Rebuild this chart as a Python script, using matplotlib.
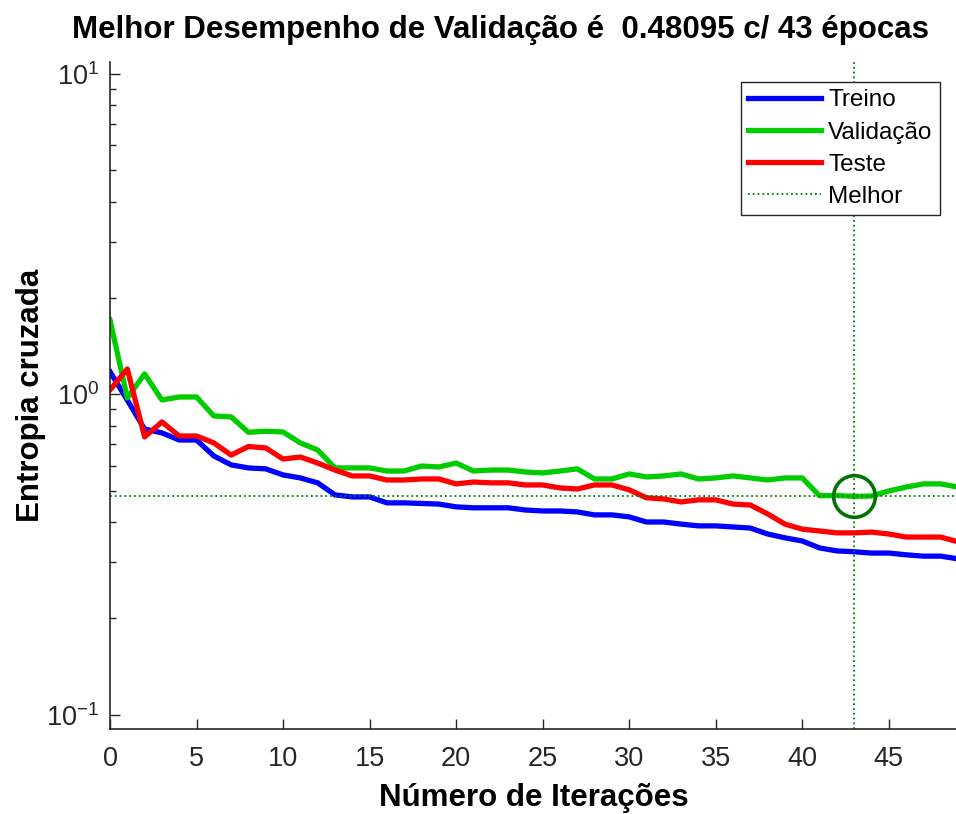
import matplotlib
matplotlib.use("Agg")
import matplotlib.pyplot as plt
from matplotlib.ticker import FuncFormatter
import numpy as np

plt.rcParams['font.family'] = ['Liberation Sans', 'DejaVu Sans']
plt.rcParams['mathtext.fontset'] = 'custom'
plt.rcParams['mathtext.rm'] = 'Liberation Sans'
plt.rcParams['axes.unicode_minus'] = False

# epocas 0..49
treino = [1.178, 0.96, 0.780, 0.759, 0.721, 0.721, 0.643, 0.603, 0.590, 0.586,
          0.561, 0.549, 0.530, 0.486, 0.479, 0.479, 0.459, 0.459, 0.457, 0.455,
          0.446, 0.443, 0.443, 0.443, 0.436, 0.433, 0.433, 0.430, 0.421, 0.421,
          0.415, 0.400, 0.400, 0.394, 0.389, 0.389, 0.386, 0.383, 0.367, 0.357,
          0.349, 0.332, 0.325, 0.323, 0.320, 0.320, 0.316, 0.313, 0.313, 0.307]
validacao = [1.708, 0.975, 1.159, 0.961, 0.982, 0.982, 0.857, 0.851, 0.762, 0.768,
             0.764, 0.706, 0.671, 0.590, 0.590, 0.590, 0.577, 0.577, 0.598, 0.594,
             0.611, 0.577, 0.581, 0.581, 0.573, 0.569, 0.577, 0.586, 0.545, 0.545,
             0.565, 0.553, 0.557, 0.565, 0.545, 0.549, 0.557, 0.549, 0.541, 0.549,
             0.549, 0.483, 0.484, 0.48095, 0.482, 0.500, 0.514, 0.526, 0.526, 0.514]
teste = [1.033, 1.201, 0.737, 0.821, 0.742, 0.742, 0.706, 0.647, 0.688, 0.681,
         0.629, 0.638, 0.611, 0.581, 0.557, 0.557, 0.541, 0.541, 0.545, 0.545,
         0.526, 0.533, 0.530, 0.530, 0.522, 0.522, 0.511, 0.507, 0.522, 0.522,
         0.504, 0.476, 0.472, 0.462, 0.469, 0.469, 0.455, 0.452, 0.424, 0.394,
         0.380, 0.375, 0.370, 0.370, 0.372, 0.367, 0.359, 0.359, 0.359, 0.347]
melhor_epoca = 43
melhor_valor = 0.48095
epocas = np.arange(len(treino))

W, H = 956, 814
fig = plt.figure(figsize=(W / 100, H / 100), dpi=100)
ax = fig.add_axes([110 / W, 1 - 729 / H, 848 / W, (729 - 62) / H])

lw = 3.8
ax.plot(epocas, treino, color=(0, 0, 1), lw=lw, label='Treino')
ax.plot(epocas, validacao, color=(0, 0.8, 0), lw=lw, label='Validação')
ax.plot(epocas, teste, color=(1, 0, 0), lw=lw, label='Teste')
ax.axhline(melhor_valor, color=(0, 0.5, 0), ls=':', lw=1.3, label='Melhor')
ax.axvline(melhor_epoca, color=(0, 0.5, 0), ls=':', lw=1.3)
ax.plot([melhor_epoca], [melhor_valor], 'o', ms=30, mfc='none',
        mec=(0, 0.45, 0), mew=2.6)

ax.set_yscale('log')
ax.set_ylim(0.0904, 10.9)
ax.set_xlim(0, 49)
ax.set_xticks(range(0, 50, 5))


def fmt_log(v, pos):
    e = int(round(np.log10(v)))
    return r'$\mathregular{10^{%d}}$' % e


ax.yaxis.set_major_formatter(FuncFormatter(fmt_log))

grey = (0.15, 0.15, 0.15)
for s in ['top', 'right']:
    ax.spines[s].set_visible(False)
for s in ['left', 'bottom']:
    ax.spines[s].set_color(grey)
    ax.spines[s].set_linewidth(1.2)
ax.tick_params(which='major', direction='in', length=7, width=1, colors=grey,
               labelsize=19.5, labelcolor=grey)
ax.tick_params(which='minor', direction='in', length=4, width=1, colors=grey)
ax.tick_params(axis='x', pad=12)
ax.tick_params(axis='y', pad=8)

ax.set_xlabel('Número de Iterações', fontsize=22.5, fontweight='bold', labelpad=8)
ax.set_ylabel('Entropia cruzada', fontsize=22.5, fontweight='bold', labelpad=0)
fig.text(500 / W, 1 - 30 / H, 'Melhor Desempenho de Validação é  0.48095 c/ 43 épocas',
         ha='center', va='center', fontsize=22.5, fontweight='bold')

leg = ax.legend(loc='upper right', bbox_to_anchor=(940 / W, 1 - 82 / H),
                bbox_transform=fig.transFigure, borderaxespad=0, fontsize=17.5,
                handlelength=3.0, handletextpad=0.3, labelspacing=0.42,
                borderpad=0.3, fancybox=False, framealpha=1,
                edgecolor=(0.15, 0.15, 0.15))
leg.get_frame().set_linewidth(1)

fig.savefig('out.png', dpi=100)
